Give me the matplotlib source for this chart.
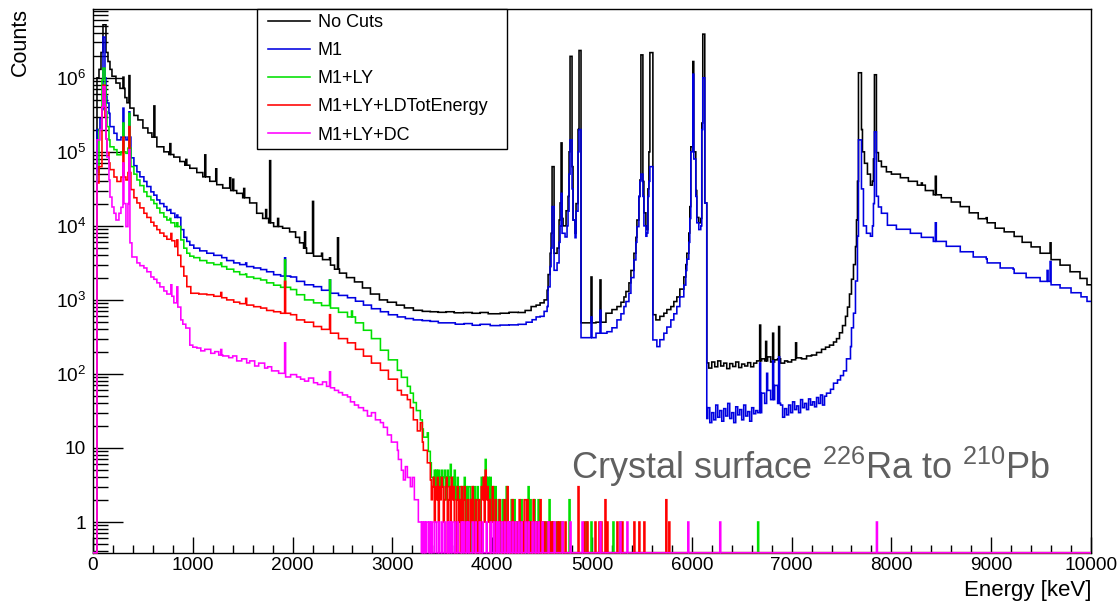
import numpy as np
import matplotlib
matplotlib.use("Agg")
import matplotlib.pyplot as plt
from matplotlib.ticker import FixedLocator, MultipleLocator, LogLocator, NullFormatter
from matplotlib.lines import Line2D
from matplotlib.legend_handler import HandlerLine2D

plt.rcParams['font.family'] = ['Liberation Sans', 'DejaVu Sans']
plt.rcParams['mathtext.fontset'] = 'custom'
plt.rcParams['mathtext.rm'] = 'Liberation Sans'
plt.rcParams['mathtext.it'] = 'Liberation Sans:italic'
plt.rcParams['mathtext.bf'] = 'Liberation Sans:bold'

# ---- spectra: continuum steps (start energy [keV], counts), narrow lines, sparse tails ----
nocuts_e = [0, 40, 60, 80, 95, 125, 145, 165, 185, 230, 270, 320, 340, 370, 410, 450, 500, 550, 590,
            640, 705, 760, 805, 870, 920, 970, 1040, 1100, 1170, 1240, 1300, 1370, 1440, 1500, 1570,
            1640, 1700, 1760, 1810, 1900, 1970, 2030, 2070, 2110, 2140, 2210, 2290, 2370, 2420, 2470,
            2540, 2620, 2700, 2780, 2870, 2950, 3040, 3120, 3210, 3300, 3380, 3460, 3540, 3620, 3710,
            3800, 3880, 3960, 4080, 4170, 4260, 4330, 4390, 4440, 4480, 4520, 4546, 4560, 4572, 4586,
            4596, 4613, 4646, 4665, 4673, 4685, 4696, 4706, 4740, 4753, 4765, 4780, 4797, 4810, 4826,
            4840, 4852, 4863, 4883, 5040, 5140, 5200, 5250, 5290, 5314, 5340, 5364, 5390, 5414, 5435,
            5448, 5465, 5475, 5481, 5501, 5514, 5531, 5548, 5560, 5570, 5575, 5608, 5640, 5680, 5715,
            5750, 5782, 5820, 5849, 5880, 5915, 5935, 5949, 5965, 5976, 5986, 6002, 6016, 6032, 6049,
            6066, 6082, 6092, 6099, 6109, 6122, 6142, 6170, 6200, 6230, 6260, 6290, 6320, 6350, 6380,
            6410, 6440, 6470, 6500, 6530, 6560, 6590, 6620, 6650, 6700, 6730, 6760, 6790, 6830, 6860,
            6890, 6930, 6960, 7000, 7050, 7100, 7150, 7200, 7250, 7300, 7340, 7380, 7420, 7450, 7480,
            7510, 7540, 7560, 7580, 7600, 7620, 7635, 7650, 7660, 7670, 7695, 7710, 7730, 7760, 7790,
            7805, 7815, 7825, 7845, 7870, 7900, 7950, 8000, 8086, 8170, 8253, 8340, 8420, 8500, 8600,
            8687, 8780, 8870, 8955, 9040, 9130, 9222, 9310, 9400, 9489, 9590, 9689, 9790, 9890, 9960]
nocuts_c = [0, 1.0e6, 1.3e6, 2.2e6, 5.2e6, 2.2e6, 1.66e6, 1.3e6, 1.05e6, 8.5e5, 7.2e5, 5.4e5, 4.6e5,
            3.9e5, 3.1e5, 2.7e5, 2.1e5, 1.8e5, 1.58e5, 1.17e5, 1.0e5, 9.2e4, 8.5e4, 7.4e4, 6.6e4, 6.0e4,
            5.25e4, 4.6e4, 4.0e4, 3.6e4, 3.24e4, 3.0e4, 2.75e4, 2.4e4, 2.04e4, 1.48e4, 1.26e4, 1.1e4,
            9.8e3, 9.3e3, 8.3e3, 7.0e3, 5.9e3, 5.0e3, 4.27e3, 3.9e3, 3.5e3, 2.95e3, 2.6e3, 2.3e3, 2.0e3,
            1.75e3, 1.45e3, 1.2e3, 1.0e3, 930, 850, 780, 724, 700, 692, 680, 692, 670, 676, 660, 676, 650,
            661, 680, 676, 720, 813, 850, 912, 1000, 1350, 2200, 4266, 7943, 6.31e4, 4266, 5012, 1.2e4,
            2.04e4, 1.32e5, 1.26e4, 1.0e4, 1.6e4, 2.5e4, 1.0e5, 1.95e6, 6.31e4, 1.2e4, 7943, 2.0e4,
            2.0e5, 2.34e6, 490, 500, 661, 740, 813, 930, 1096, 1300, 1698, 2500, 4266, 7000, 1.2e4, 2.5e4,
            4.17e4, 2.04e6, 3.98e4, 1.5e4, 1.0e4, 8913, 3.16e4, 1.0e5, 2.19e6, 631, 537, 600, 661, 740,
            813, 950, 1096, 1400, 2042, 3000, 4266, 8000, 1.82e4, 1.17e5, 1.66e6, 1.0e5, 3.0e4, 1.3e4,
            1.1e4, 1.26e4, 5.0e4, 2.45e5, 3.89e6, 2.04e4, 141, 120, 145, 125, 150, 128, 140, 118, 138,
            126, 145, 122, 136, 128, 142, 125, 140, 150, 160, 150, 170, 145, 155, 160, 140, 150, 145, 155,
            165, 160, 175, 180, 195, 215, 230, 245, 270, 300, 360, 450, 600, 800, 1200, 1900, 3000, 5248,
            1.2e4, 4.0e4, 1.17e6, 2.0e5, 1.0e5, 7.0e4, 5.0e4, 3.55e4, 4.0e4, 8.0e4, 1.1e6, 9.77e4,
            7.5e4, 6.3e4, 5.37e4, 5.0e4, 4.47e4, 4.0e4, 3.55e4, 3.0e4, 2.63e4, 2.4e4, 2.1e4, 1.82e4,
            1.5e4, 1.25e4, 1.1e4, 9.3e3, 8.3e3, 7.2e3, 6.0e3, 5.2e3, 4.27e3, 3.5e3, 2.95e3, 2.4e3,
            1.95e3, 1.6e3]
nocuts_pk_e = [300, 360, 610, 770, 934, 1125, 1238, 1377, 1408, 1510, 1730, 1770, 1850, 2120, 2205,
               2290, 2370, 2455, 4990, 5085, 6683, 6743, 6810, 6874, 7041, 8300, 8447, 8955, 9596]
nocuts_pk_c = [1.02e6, 1.07e6, 4.17e5, 1.29e5, 7.9e4, 9.1e4, 5.9e4, 4.47e4, 4.27e4, 3.2e4, 1.66e4,
               7.6e4, 1.26e4, 8.3e3, 2.14e4, 4.27e3, 3.7e3, 6.9e3, 2.04e3, 1.86e3, 457, 275, 355, 437,
               263, 3.8e4, 4.68e4, 1.29e4, 5.9e3]

m1_e = [0, 40, 70, 85, 95, 115, 125, 137, 154, 170, 204, 237, 271, 321, 344, 377, 410, 437, 470, 504,
        540, 571, 605, 638, 670, 705, 740, 771, 820, 872, 905, 939, 970, 1005, 1070, 1139, 1205, 1272,
        1340, 1406, 1470, 1540, 1610, 1673, 1740, 1807, 1880, 1974, 2040, 2120, 2207, 2290, 2374, 2460,
        2541, 2625, 2708, 2790, 2875, 2960, 3042, 3130, 3210, 3300, 3377, 3460, 3544, 3630, 3711, 3800,
        3878, 3980, 4080, 4170, 4256, 4340, 4400, 4436, 4480, 4520, 4546, 4560, 4572, 4586, 4596, 4613,
        4646, 4665, 4673, 4685, 4696, 4706, 4729, 4745, 4753, 4765, 4780, 4797, 4810, 4826, 4840, 4852,
        4863, 4883, 5040, 5147, 5200, 5247, 5290, 5314, 5340, 5364, 5390, 5414, 5435, 5448, 5465, 5475,
        5481, 5501, 5514, 5531, 5548, 5560, 5570, 5575, 5608, 5648, 5680, 5715, 5750, 5782, 5820, 5849,
        5880, 5915, 5935, 5949, 5965, 5976, 5986, 6002, 6016, 6032, 6049, 6066, 6082, 6092, 6099, 6109,
        6122, 6142, 6160, 6180, 6200, 6220, 6240, 6260, 6280, 6300, 6320, 6340, 6360, 6380, 6400, 6420,
        6440, 6460, 6480, 6500, 6520, 6540, 6560, 6580, 6600, 6620, 6640, 6660, 6700, 6730, 6760, 6790,
        6830, 6860, 6890, 6910, 6930, 6950, 6970, 6990, 7010, 7030, 7050, 7070, 7090, 7110, 7130, 7150,
        7170, 7190, 7210, 7230, 7250, 7270, 7290, 7310, 7330, 7350, 7385, 7420, 7451, 7490, 7518, 7550,
        7585, 7600, 7618, 7635, 7652, 7665, 7670, 7695, 7720, 7750, 7786, 7805, 7815, 7825, 7845, 7870,
        7900, 7953, 8050, 8186, 8300, 8420, 8550, 8687, 8820, 8955, 9090, 9222, 9350, 9489, 9590, 9689,
        9800, 9900, 9960]
m1_c = [0, 2.0e5, 2.82e5, 3.72e5, 3.55e6, 1.0e6, 5.62e5, 4.57e5, 3.31e5, 2.19e5, 1.78e5, 1.45e5,
        1.58e5, 1.45e5, 1.58e5, 8.3e4, 6.5e4, 5.37e4, 4.6e4, 3.98e4, 3.4e4, 2.88e4, 2.6e4, 2.24e4,
        2.0e4, 1.82e4, 1.62e4, 1.48e4, 1.3e4, 8.9e3, 7.0e3, 6.17e3, 5.5e3, 5.0e3, 4.6e3, 4.27e3, 4.0e3,
        3.72e3, 3.4e3, 3.16e3, 3.0e3, 2.82e3, 2.7e3, 2.57e3, 2.4e3, 2.19e3, 2.1e3, 2.04e3, 1.78e3,
        1.6e3, 1.51e3, 1.35e3, 1.23e3, 1.15e3, 1.07e3, 960, 851, 760, 692, 630, 589, 560, 537, 525, 513,
        490, 490, 470, 479, 455, 468, 450, 457, 460, 468, 500, 540, 589, 600, 700, 813, 1500, 2818, 5012,
        1.82e4, 2512, 3162, 6000, 1.0e4, 2.75e4, 7943, 7943, 7079, 1.0e4, 1.58e4, 5.0e4, 1.45e5, 3.16e4,
        1.2e4, 6918, 1.58e4, 1.0e5, 2.0e5, 309, 355, 372, 420, 537, 650, 813, 950, 1230, 2000, 3467,
        6000, 9772, 2.5e4, 4.0e4, 5.0e4, 2.5e4, 1.0e4, 7244, 8000, 2.5e4, 4.0e4, 6.31e4, 288, 234, 290,
        355, 430, 537, 650, 813, 1100, 1585, 2500, 3548, 6000, 1.26e4, 1.0e5, 1.12e6, 8.0e4, 2.5e4,
        1.1e4, 8913, 1.0e4, 4.0e4, 2.0e5, 1.0e6, 2.04e4, 25, 35, 22, 30, 24, 38, 26, 32, 23, 34, 27,
        40, 25, 30, 22, 36, 28, 33, 24, 38, 27, 31, 23, 35, 29, 32, 30, 55, 40, 60, 45, 70, 40, 38, 26,
        34, 28, 38, 30, 42, 33, 37, 30, 45, 35, 40, 33, 46, 38, 42, 36, 48, 40, 52, 38, 50, 55, 62, 75,
        83, 95, 110, 160, 234, 420, 661, 1800, 7244, 5.0e4, 1.45e5, 3.16e4, 1.0e4, 7943, 7244, 1.0e4,
        2.0e4, 1.86e5, 2.51e4, 1.8e4, 1.48e4, 1.02e4, 9.0e3, 7.94e3, 7.0e3, 6.17e3, 5.3e3, 4.47e3,
        3.8e3, 3.16e3, 2.7e3, 2.29e3, 2.0e3, 1.78e3, 1.6e3, 1.45e3, 1.25e3, 1.1e3, 955]
m1_pk_e = [300, 360, 770, 845, 1282, 1533, 1920, 2370, 4990, 5085, 6683, 6750, 6810, 6874, 8447,
           8955, 9222, 9560, 9596]
m1_pk_c = [3.89e5, 3.47e5, 1.66e4, 1.4e4, 4.0e3, 3.16e3, 3.7e3, 1.86e3, 589, 724, 141, 102, 151, 170,
           1.1e4, 3.6e3, 2.6e3, 2.5e3, 3.3e3]

m1ly_e = [0, 40, 60, 85, 95, 115, 125, 137, 154, 170, 204, 237, 271, 321, 344, 377, 410, 437, 470, 504,
          540, 571, 605, 638, 670, 705, 740, 771, 820, 872, 905, 939, 970, 1005, 1070, 1139, 1205,
          1272, 1340, 1406, 1470, 1540, 1610, 1673, 1740, 1807, 1880, 1974, 2040, 2120, 2207, 2290,
          2374, 2460, 2541, 2625, 2708, 2790, 2875, 2960, 3042, 3090, 3143, 3180, 3210, 3240, 3276,
          3295, 3310, 3343, 3360, 3377, 3390, 3400]
m1ly_c = [0, 5.25e4, 2.0e5, 9.33e5, 1.35e6, 7.59e5, 3.5e5, 2.19e5, 1.45e5, 1.17e5, 1.07e5, 9.12e4,
          1.0e5, 9.55e4, 1.12e5, 6.31e4, 5.0e4, 4.17e4, 3.5e4, 2.88e4, 2.5e4, 2.24e4, 2.0e4, 1.74e4,
          1.5e4, 1.32e4, 1.2e4, 1.1e4, 9.8e3, 6.46e3, 5.0e3, 4.27e3, 3.9e3, 3.72e3, 3.4e3, 3.16e3,
          3.0e3, 2.82e3, 2.6e3, 2.4e3, 2.2e3, 2.04e3, 1.95e3, 1.86e3, 1.7e3, 1.58e3, 1.48e3, 1.38e3,
          1175, 1000, 912, 840, 776, 680, 589, 490, 389, 300, 209, 155, 112, 90, 68, 55, 41, 32, 24, 18,
          14, 13, 9, 6.3, 4, 0]
m1ly_pk_e = [300, 360, 770, 845, 1282, 1533, 1920, 2370, 2594, 3355]
m1ly_pk_c = [2.45e5, 3.31e5, 1.26e4, 1.1e4, 3.16e3, 2.24e3, 3.47e3, 1.86e3, 708, 16]
m1ly_tail_e = [3400, 3410, 3420, 3430, 3440, 3450, 3460, 3470, 3480, 3490, 3500, 3510, 3520, 3530, 3540,
               3550, 3560, 3570, 3580, 3590, 3600, 3610, 3620, 3630, 3640, 3650, 3660, 3670, 3680, 3700,
               3710, 3720, 3740, 3750, 3760, 3770, 3790, 3800, 3810, 3820, 3840, 3850, 3860, 3870, 3890,
               3900, 3910, 3920, 3930, 3940, 3950, 3960, 3970, 3980, 3990, 4000, 4010, 4030, 4040, 4060,
               4080, 4100, 4110, 4140, 4150, 4170, 4190, 4220, 4230, 4260, 4290, 4310, 4330, 4360, 4380,
               4400, 4420, 4450, 4460, 4490, 4530, 4570, 4600, 4640, 4680, 4770, 4940, 4990, 5210, 5280,
               6660]
m1ly_tail_c = [4, 3, 5, 3, 5, 4, 5, 3, 4, 5, 3, 4, 5, 2, 4, 5, 3, 4, 6, 3, 4, 3, 5, 2, 3, 4, 2, 3, 3, 2,
               3, 4, 3, 2, 3, 3, 2, 3, 1, 3, 2, 3, 1, 2, 4, 3, 4, 2, 7, 4, 3, 4, 2, 4, 1, 2, 3, 3, 1, 2,
               1, 2, 1, 3, 2, 1, 2, 2, 1, 1, 2, 1, 1, 3, 2, 1, 2, 1, 2, 1, 1, 2, 1, 1, 1, 2, 1, 1, 1, 1,
               1]

ldtot_e = [0, 40, 60, 85, 95, 115, 125, 137, 154, 170, 204, 237, 271, 321, 344, 377, 410, 437, 470, 504,
           540, 571, 605, 638, 670, 705, 740, 771, 820, 850, 872, 905, 939, 972, 1060, 1139, 1205, 1272,
           1340, 1406, 1470, 1540, 1610, 1673, 1740, 1807, 1880, 1974, 2040, 2120, 2207, 2290, 2374,
           2460, 2541, 2625, 2708, 2790, 2875, 2960, 3042, 3090, 3143, 3180, 3210, 3243, 3276, 3295,
           3310, 3343, 3377, 3390, 3400]
ldtot_c = [0, 3.8e4, 6.31e4, 4.07e5, 7.94e5, 3.0e5, 1.5e5, 9.77e4, 7.08e4, 5.75e4, 4.57e4, 3.98e4,
           4.57e4, 4.17e4, 5.25e4, 3.09e4, 2.4e4, 2.04e4, 1.75e4, 1.48e4, 1.3e4, 1.12e4, 1.0e4, 8.9e3,
           8.0e3, 7.24e3, 6.6e3, 6.3e3, 5.25e3, 4.0e3, 2.82e3, 2.1e3, 1.51e3, 1.23e3, 1.2e3, 1175, 1120,
           1070, 1000, 933, 890, 851, 810, 776, 720, 692, 660, 631, 537, 500, 437, 400, 355, 300, 263,
           215, 174, 140, 112, 85, 60, 52, 45, 35, 24, 17, 22, 12, 9.3, 6.3, 3.7, 2, 0]
ldtot_pk_e = [300, 360, 785, 845, 1282, 1533, 1920, 2370]
ldtot_pk_c = [1.58e5, 2.19e5, 7.9e3, 6.46e3, 1.26e3, 1.05e3, 1.78e3, 631]
ldtot_tail_e = [3400, 3410, 3420, 3430, 3440, 3450, 3460, 3470, 3480, 3490, 3500, 3510, 3520, 3530,
                3540, 3560, 3570, 3580, 3590, 3600, 3610, 3620, 3640, 3650, 3660, 3670, 3690, 3700,
                3710, 3720, 3740, 3750, 3760, 3780, 3790, 3800, 3810, 3830, 3840, 3860, 3870, 3890,
                3900, 3910, 3920, 3930, 3940, 3950, 3960, 3970, 3990, 4000, 4010, 4030, 4040, 4050,
                4070, 4080, 4100, 4120, 4130, 4150, 4160, 4180, 4200, 4210, 4240, 4270, 4280, 4300,
                4320, 4330, 4340, 4350, 4370, 4390, 4410, 4420, 4440, 4460, 4480, 4500, 4520, 4550,
                4570, 4590, 4610, 4650, 4670, 4700, 4730, 4860, 4920, 4950, 5030, 5070, 5090, 5130,
                5150, 5250, 5300, 5420, 5470, 5520, 5740, 5770]
ldtot_tail_c = [3, 4, 1, 3, 2, 4, 1, 3, 2, 4, 3, 1, 2, 3, 4, 2, 3, 1, 4, 2, 3, 1, 2, 3, 1, 2, 3, 1, 2, 3,
                1, 2, 1, 2, 1, 3, 1, 2, 1, 2, 1, 3, 2, 4, 1, 5, 2, 3, 1, 2, 1, 3, 1, 2, 1, 1, 2, 1, 1, 2,
                1, 3, 1, 1, 2, 1, 1, 2, 1, 1, 2, 2, 1, 2, 1, 1, 2, 1, 1, 1, 2, 1, 1, 1, 1, 1, 1, 1, 1, 1,
                1, 3, 1, 1, 1, 1, 1, 2, 1, 1, 1, 1, 1, 1, 2, 1]

dc_e = [0, 40, 70, 85, 95, 115, 125, 137, 154, 170, 190, 204, 221, 254, 271, 304, 321, 344, 370, 387,
        437, 470, 504, 540, 571, 605, 638, 670, 705, 740, 790, 805, 840, 872, 900, 922, 962, 1000, 1033,
        1080, 1120, 1176, 1220, 1260, 1300, 1355, 1400, 1440, 1490, 1533, 1570, 1620, 1660, 1712, 1750,
        1790, 1855, 1930, 1980, 2040, 2080, 2120, 2160, 2207, 2250, 2300, 2340, 2374, 2420, 2460, 2500,
        2541, 2580, 2620, 2660, 2708, 2750, 2790, 2830, 2875, 2910, 2950, 2990, 3042, 3060, 3090, 3110,
        3130, 3150, 3180, 3200, 3218, 3250, 3260, 3272]
dc_c = [0, 1.45e5, 2.0e5, 4.0e5, 7.59e5, 4.07e5, 1.5e5, 8.5e4, 4.17e4, 2.45e4, 1.8e4, 1.48e4, 1.2e4,
        1.48e4, 1.78e4, 2.0e4, 9.77e3, 2.0e4, 5.9e3, 3.8e3, 3.16e3, 2.9e3, 2.7e3, 2.4e3, 2.04e3, 1.9e3,
        1.7e3, 1.5e3, 1.32e3, 1.2e3, 1.12e3, 912, 800, 537, 470, 417, 245, 230, 224, 205, 215, 190, 200,
        180, 175, 166, 175, 150, 160, 141, 150, 128, 140, 120, 125, 110, 102, 91, 98, 91, 85, 80, 88, 76,
        72, 78, 68, 65, 60, 56, 52, 49, 42, 38, 35, 32, 27, 30, 24, 22, 19, 15, 12, 9.3, 7, 5, 3.7, 5.6,
        4, 3, 4, 2, 2, 1, 0]
dc_pk_e = [300, 360, 780, 845, 1284, 1920, 2370]
dc_pk_c = [7.08e4, 1.07e5, 1.6e3, 1.5e3, 214, 263, 107]
dc_tail_e = [3280, 3300, 3320, 3340, 3350, 3370, 3390, 3420, 3430, 3460, 3490, 3520, 3550, 3570, 3590,
             3620, 3650, 3690, 3710, 3740, 3760, 3800, 3830, 3870, 3900, 3940, 3980, 4010, 4040, 4060,
             4090, 4120, 4150, 4170, 4200, 4230, 4260, 4290, 4330, 4360, 4400, 4430, 4460, 4500, 4560,
             4620, 4700, 4780, 4900, 5080, 5280, 5350, 5960, 6280, 7850]
dc_tail_c = [1] * len(dc_tail_e)

labels = ["No Cuts", "M1", "M1+LY", "M1+LY+LDTotEnergy", "M1+LY+DC"]
colors = ["#000000", "#0000e0", "#00e000", "#ff0000", "#ff00ff"]

BIN = 10
EMAX = 10000
YMIN, YMAX = 0.385, 8.5e6
edges = np.arange(0, EMAX + BIN, BIN)


def histo(cont_e, cont_c, pk_e=(), pk_c=(), tail_e=(), tail_c=()):
    # 10 keV bins: continuum step value, then narrow lines / sparse bins on top
    idx = np.searchsorted(cont_e, edges[:-1], side='right') - 1
    h = np.asarray(cont_c, dtype=float)[idx]
    for e, c in list(zip(pk_e, pk_c)) + list(zip(tail_e, tail_c)):
        h[int(e // BIN)] = c
    # empty bins sit on the frame floor, as ROOT draws them
    return np.where(h > 0, h, YMIN)


hists = [
    histo(nocuts_e, nocuts_c, nocuts_pk_e, nocuts_pk_c),
    histo(m1_e, m1_c, m1_pk_e, m1_pk_c),
    histo(m1ly_e, m1ly_c, m1ly_pk_e, m1ly_pk_c, m1ly_tail_e, m1ly_tail_c),
    histo(ldtot_e, ldtot_c, ldtot_pk_e, ldtot_pk_c, ldtot_tail_e, ldtot_tail_c),
    histo(dc_e, dc_c, dc_pk_e, dc_pk_c, dc_tail_e, dc_tail_c),
]

fig = plt.figure(figsize=(11.2, 6.03), dpi=100)
ax = fig.add_axes([93 / 1120, 50.3 / 603, 998 / 1120, 543.7 / 603])
ax.set_yscale('log')

LW = 1.15
# M1 first so the uncut spectrum sits on top of it
for i in [1, 0, 2, 3, 4]:
    ax.stairs(hists[i], edges, baseline=None, color=colors[i], lw=LW, zorder=3 + i * 0.1,
              clip_on=False)

ax.set_xlim(0, EMAX)
ax.set_ylim(YMIN, YMAX)

for s in ax.spines.values():
    s.set_linewidth(1.0)
    s.set_color('black')

ax.xaxis.set_major_locator(MultipleLocator(1000))
ax.xaxis.set_minor_locator(MultipleLocator(200))
ax.tick_params(axis='x', which='major', direction='in', length=11.5, width=1.0, labelsize=13.7, pad=3)
ax.tick_params(axis='x', which='minor', direction='in', length=5.5, width=1.0)

ytick_vals = [1, 10, 1e2, 1e3, 1e4, 1e5, 1e6]
ytick_labels = ['1', '10', r'$10^{2}$', r'$10^{3}$', r'$10^{4}$', r'$10^{5}$', r'$10^{6}$']
ax.yaxis.set_major_locator(FixedLocator(ytick_vals))
ax.set_yticklabels(ytick_labels)
ax.yaxis.set_minor_locator(LogLocator(base=10, subs=np.arange(2, 10), numticks=20))
ax.yaxis.set_minor_formatter(NullFormatter())
ax.tick_params(axis='y', which='major', direction='in', length=21.6, width=1.0, labelsize=13.7, pad=5)
ax.tick_params(axis='y', which='minor', direction='in', length=10.8, width=1.0)

fig.text(20 / 1120, 1 - 8 / 603, 'Counts', rotation=90, ha='center', va='top', fontsize=15.5)
fig.text(1091 / 1120, 7 / 603, 'Energy [keV]', ha='right', va='baseline', fontsize=16)

ax.text(0.4794, 0.135, r'Crystal surface $^{226}$Ra to $^{210}$Pb', transform=ax.transAxes,
        ha='left', va='baseline', fontsize=26, color='#606060')

handles = [Line2D([], [], color=c, lw=LW) for c in colors]
leg = ax.legend(handles, labels, loc='upper left', bbox_to_anchor=(0.164, 0.7467, 0.2505, 0.2533),
                mode='expand', borderaxespad=0, fontsize=13, frameon=True, fancybox=False,
                framealpha=1, edgecolor='black', borderpad=0.27, labelspacing=0.62,
                handlelength=2.68, handletextpad=0.44,
                handler_map={Line2D: HandlerLine2D(xpad=0.35)})
leg.get_frame().set_linewidth(1.0)
leg.set_zorder(10)

fig.savefig('out.png', dpi=100, facecolor='white')
